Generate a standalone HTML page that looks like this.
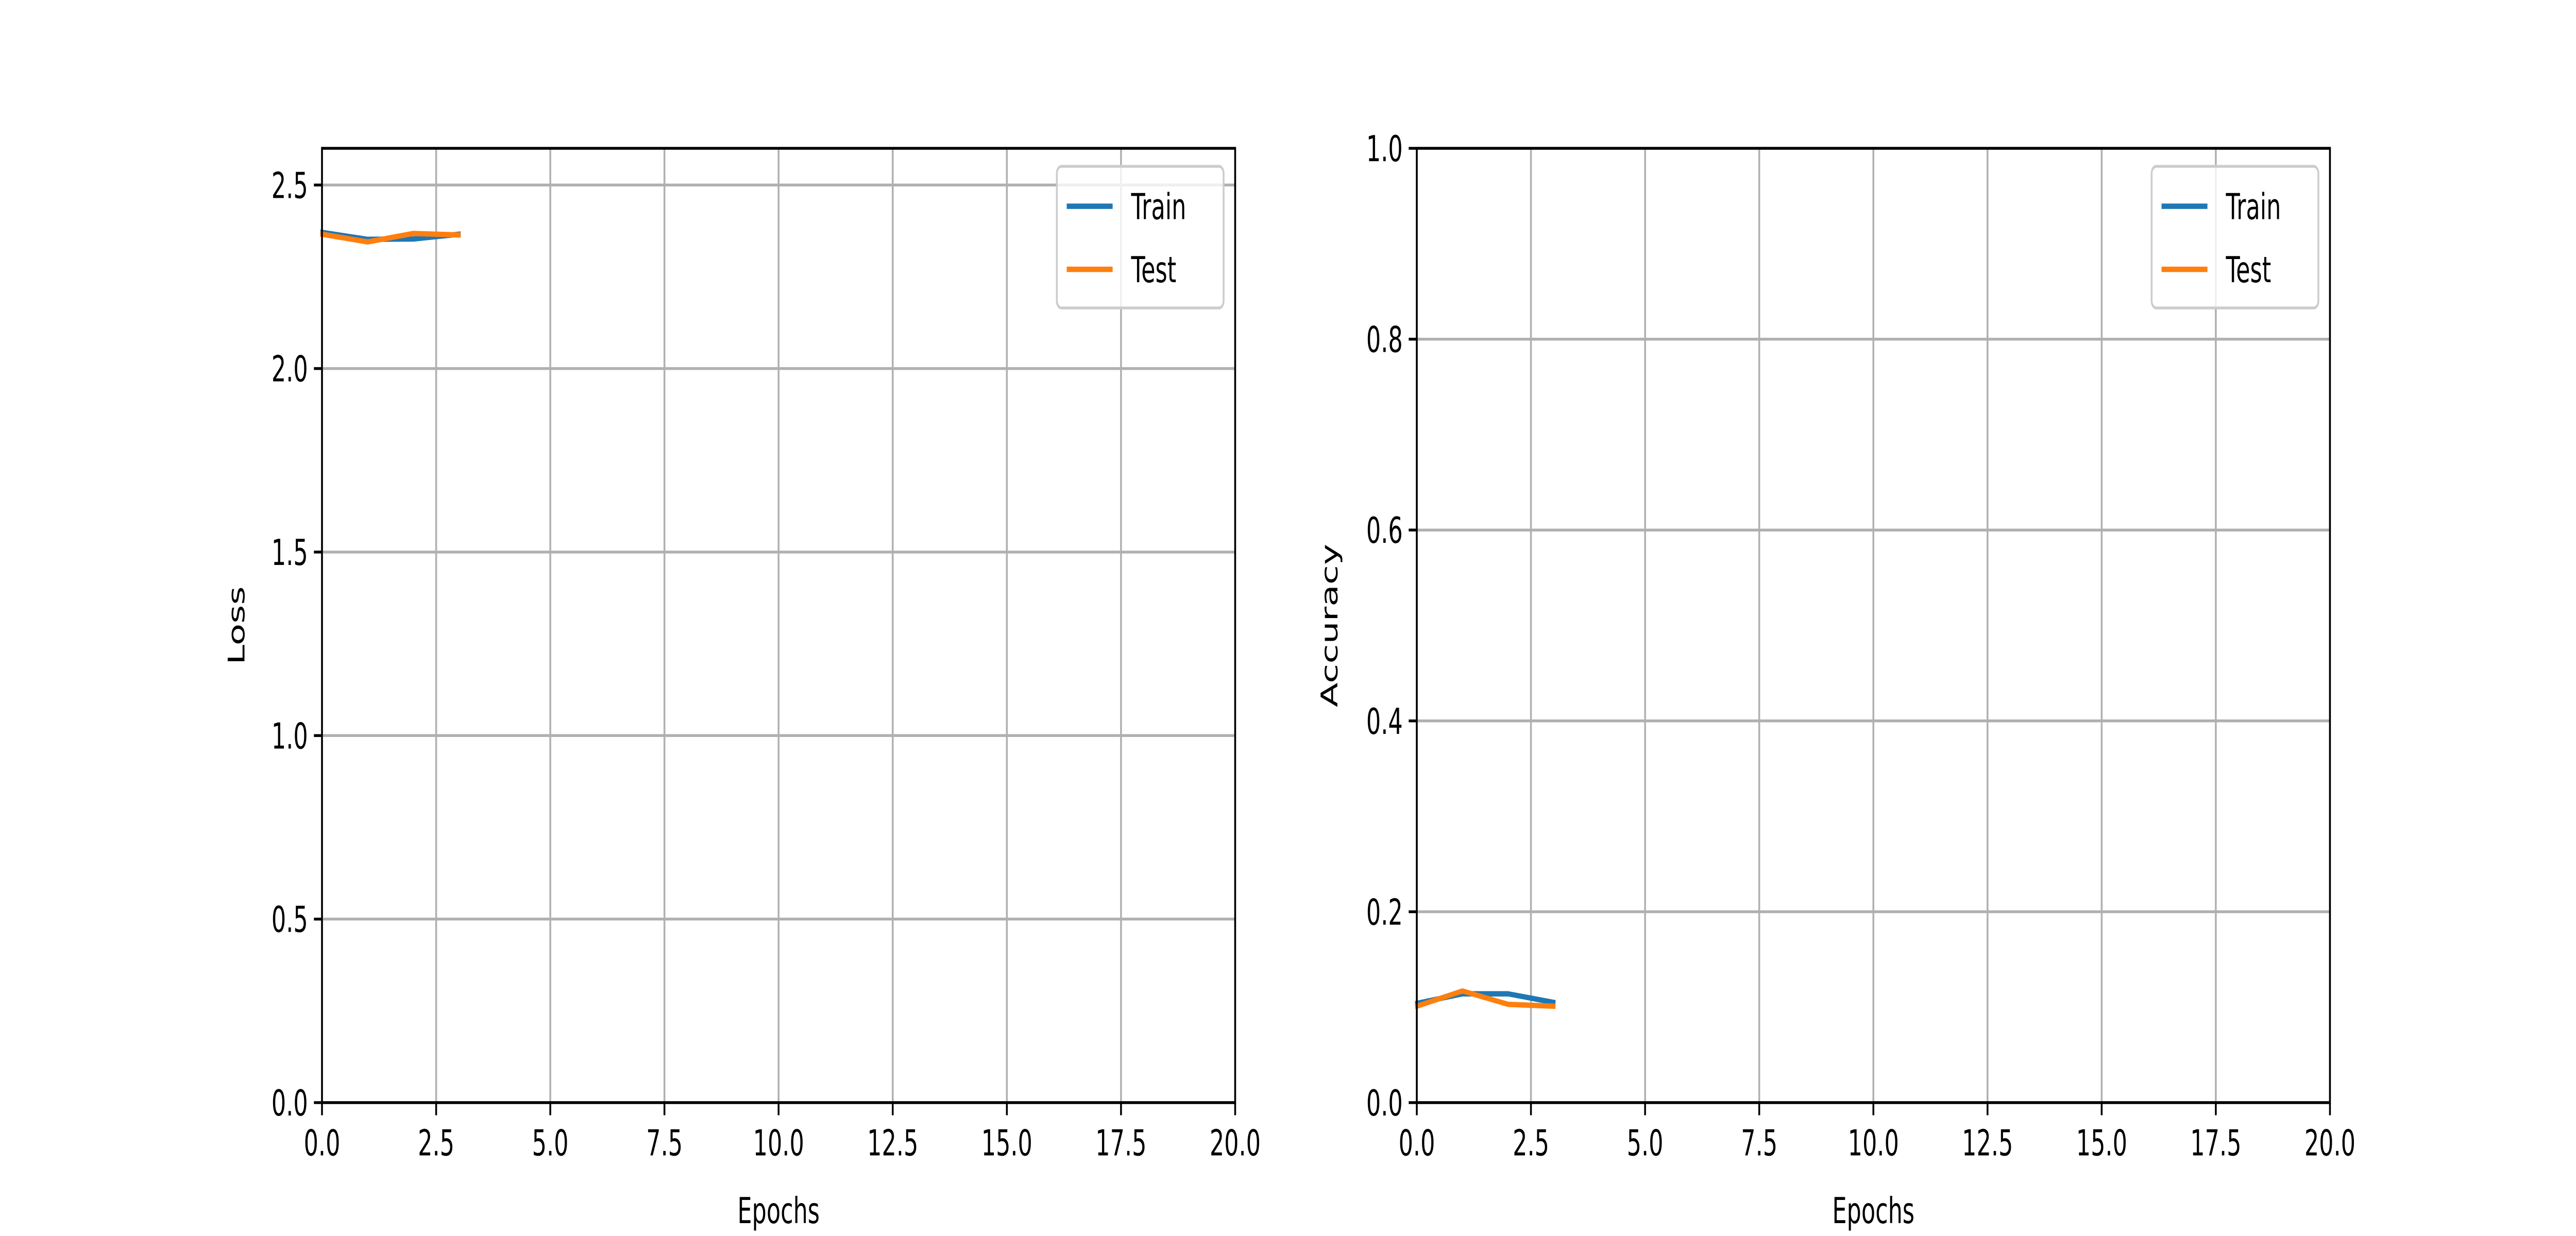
<!DOCTYPE html>
<html><head><meta charset="utf-8"><style>
html,body{margin:0;padding:0;background:#fff;width:100vw;height:100vh;overflow:hidden;}
svg{display:block;width:100vw;height:100vh;}
text{font-family:"DejaVu Sans","Liberation Sans",sans-serif;font-size:13.9px;fill:#000;}
</style></head>
<body>
<svg id="fig" viewBox="0 0 1560 480" preserveAspectRatio="none" xmlns="http://www.w3.org/2000/svg">
<rect width="1560" height="480" fill="#fff"/>
</svg>
<script>
const epochs = [0, 1, 2, 3];
const lossTrain = [2.371, 2.352, 2.353, 2.366];
const lossTest = [2.366, 2.345, 2.368, 2.364];
const accTrain = [0.104, 0.114, 0.114, 0.105];
const accTest = [0.101, 0.117, 0.103, 0.101];
const xTicks = [0, 2.5, 5, 7.5, 10, 12.5, 15, 17.5, 20];
const xTickLabels = ["0.0","2.5","5.0","7.5","10.0","12.5","15.0","17.5","20.0"];
const lossYTicks = [0, 0.5, 1.0, 1.5, 2.0, 2.5];
const lossYTickLabels = ["0.0","0.5","1.0","1.5","2.0","2.5"];
const accYTicks = [0, 0.2, 0.4, 0.6, 0.8, 1.0];
const accYTickLabels = ["0.0","0.2","0.4","0.6","0.8","1.0"];

const NS = "http://www.w3.org/2000/svg";
const svg = document.getElementById('fig');
function mk(tag, attrs, parent){
  const e = document.createElementNS(NS, tag);
  for (const k in attrs) e.setAttribute(k, attrs[k]);
  (parent||svg).appendChild(e);
  return e;
}
function panel(opt){
  const g = mk('g', {});
  
  
  const L = opt.left, R = opt.right, T = 57.6, B = 428.2;
  const sx = v => L + (v - 0) / (20 - 0) * (R - L);
  const sy = v => B - (v - opt.ymin) / (opt.ymax - opt.ymin) * (B - T);
  xTicks.forEach((t) => {
    const l = mk('line', {x1:sx(t), x2:sx(t), y1:T, y2:B, stroke:'#b0b0b0', 'stroke-width':1.1}, g);
    
    
  });
  opt.yTicks.forEach((t) => {
    const l = mk('line', {x1:L, x2:R, y1:sy(t), y2:sy(t), stroke:'#b0b0b0', 'stroke-width':1.1}, g);
    
    
  });
  const series = [[opt.train, '#1f77b4', 'train-line'], [opt.test, '#ff7f0e', 'test-line']];
  series.forEach(([vals, col, nm]) => {
    const pts = vals.map((v, i) => sx(epochs[i]) + ',' + sy(v)).join(' ');
    const p = mk('polyline', {points:pts, fill:'none', stroke:col, 'stroke-width':2.08, 'stroke-linejoin':'round', 'stroke-linecap':'square'}, g);
    
    
  });
  const sp = mk('rect', {x:L, y:T, width:R-L, height:B-T, fill:'none', stroke:'#000', 'stroke-width':1.1}, g);
  
  
  xTicks.forEach((t, i) => {
    mk('line', {x1:sx(t), x2:sx(t), y1:B, y2:B+4.9, stroke:'#000', 'stroke-width':1.1}, g);
    const tx = mk('text', {x:sx(t), y:B+20.5, 'text-anchor':'middle'}, g);
    tx.textContent = xTickLabels[i];
    
    
  });
  opt.yTicks.forEach((t, i) => {
    mk('line', {x1:L-4.9, x2:L, y1:sy(t), y2:sy(t), stroke:'#000', 'stroke-width':1.1}, g);
    const tx = mk('text', {x:L-8.5, y:sy(t)+5, 'text-anchor':'end'}, g);
    tx.textContent = opt.yTickLabels[i];
    
    
  });
  const xl = mk('text', {x:(L+R)/2, y:475, 'text-anchor':'middle'}, g);
  xl.textContent = 'Epochs';
  
  
  const yx = opt.ylabelX, yy = (T+B)/2;
  const yl = mk('text', {x:yx, y:yy, 'text-anchor':'middle', transform:'rotate(-90 '+yx+' '+yy+')'}, g);
  yl.textContent = opt.ylabel;
  
  
  const lg = mk('g', {}, g);
  
  
  const lx = R - 7 - 101, ly = T + 7;
  mk('rect', {x:lx, y:ly, width:101, height:55, rx:2.8, fill:'#fff', 'fill-opacity':0.8, stroke:'#cccccc', 'stroke-width':1.1}, lg);
  [['Train','#1f77b4',ly+15.5],['Test','#ff7f0e',ly+40]].forEach(([lab,col,yy2]) => {
    const e = mk('g', {}, lg);
    
    
    mk('line', {x1:lx+6, x2:lx+33.8, y1:yy2, y2:yy2, stroke:col, 'stroke-width':2.08}, e);
    const t = mk('text', {x:lx+45, y:yy2+5}, e);
    t.textContent = lab;
  });
}
panel({name:'loss-panel', left:195, right:748, ymin:0, ymax:2.6, yTicks:lossYTicks, yTickLabels:lossYTickLabels, train:lossTrain, test:lossTest, ylabel:'Loss', ylabelX:148});
panel({name:'accuracy-panel', left:858, right:1411, ymin:0, ymax:1.0, yTicks:accYTicks, yTickLabels:accYTickLabels, train:accTrain, test:accTest, ylabel:'Accuracy', ylabelX:810});
</script>
</body></html>
